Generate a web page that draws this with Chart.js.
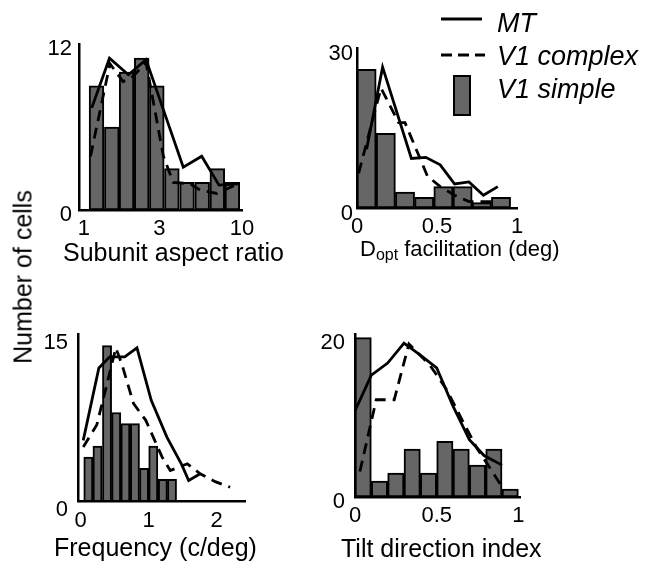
<!DOCTYPE html>
<html>
<head>
<meta charset="utf-8">
<script src="https://cdn.jsdelivr.net/npm/chart.js@4.4.1/dist/chart.umd.min.js"></script>
<style>
  body { margin: 0; background: #fff; }
  #fig { position: relative; width: 649px; height: 565px; overflow: hidden; font-family: "Liberation Sans", Arial, sans-serif; color: #000; }
  #fig canvas { position: absolute; }
  .lbl { position: absolute; white-space: nowrap; line-height: 1; }
  .leg { font-style: italic; font-size: 27px; left: 497px; }
</style>
</head>
<body>
<div id="fig">
  <canvas id="c1" width="265" height="275" style="left:0;top:0"></canvas>
  <canvas id="c2" width="250" height="275" style="left:290px;top:0"></canvas>
  <canvas id="c3" width="270" height="275" style="left:0;top:290px"></canvas>
  <canvas id="c4" width="255" height="275" style="left:290px;top:290px"></canvas>

  <div class="lbl" style="font-size:25px;left:23px;top:277px;transform:translate(-50%,-50%) rotate(-90deg)">Number of cells</div>
  <div class="lbl" style="font-size:25px;left:63px;top:240px">Subunit aspect ratio</div>
  <div class="lbl" style="font-size:22px;left:360px;top:238px">D<span style="font-size:16px;position:relative;top:4px">opt</span> facilitation (deg)</div>
  <div class="lbl" style="font-size:25px;left:54px;top:535px">Frequency (c/deg)</div>
  <div class="lbl" style="font-size:25px;left:341px;top:536px">Tilt direction index</div>

  <svg style="position:absolute;left:440px;top:0" width="50" height="120">
    <line x1="1" y1="19" x2="42" y2="19" stroke="#000" stroke-width="2.8"/>
    <line x1="1" y1="55" x2="45" y2="55" stroke="#000" stroke-width="2.8" stroke-dasharray="11 6"/>
    <rect x="14" y="76" width="16" height="39" fill="#666" stroke="#000" stroke-width="2"/>
  </svg>
  <div class="lbl leg" style="top:10px">MT</div>
  <div class="lbl leg" style="top:43px">V1 complex</div>
  <div class="lbl leg" style="top:76px">V1 simple</div>
</div>

<script>
// subunit aspect ratio (log axis)
const aspectBins = [1.2, 1.5, 1.86, 2.32, 2.89, 3.6, 4.49, 5.6, 6.98, 8.69];
const aspectSimple = [9, 6, 10, 11, 9, 3, 2, 2, 3, 2];
const aspectMTx = [1.12, 1.45, 1.91, 2.47, 4.25, 5.56, 7.15, 9.48];
const aspectMT = [7.4, 11, 9.8, 10.9, 3.1, 3.9, 1.8, 1.9];
const aspectCxX = [1.10, 1.46, 1.77, 2.05, 2.47, 3.18, 3.67, 4.69, 5.42, 6.92, 9.48];
const aspectCx = [3.9, 10.6, 9.3, 9.7, 10.7, 3.9, 2.0, 1.9, 1.45, 1.2, 1.9];
const aspectTicks = [1, 3, 10];

// Dopt facilitation
const doptBins = [0.06, 0.18, 0.30, 0.42, 0.54, 0.66, 0.78, 0.90];
const doptSimple = [26, 14, 3, 2, 4, 4, 1, 2];
const doptMTx = [0.06, 0.16, 0.34, 0.43, 0.52, 0.61, 0.70, 0.79, 0.88];
const doptMT = [11, 26.4, 9.3, 9.5, 8.1, 4.5, 4.9, 2.4, 4.0];
const doptCxX = [0.01, 0.15, 0.26, 0.30, 0.44, 0.52, 0.61, 0.70, 0.85];
const doptCx = [6.5, 22.5, 16, 16, 6, 4, 2.4, 1.2, 1.2];
const doptTicks = [0, 0.5, 1];

// spatial frequency
const freqBins = [0.115, 0.25, 0.39, 0.525, 0.66, 0.80, 0.935, 1.07, 1.21, 1.345];
const freqSimple = [4, 5, 14, 8, 7, 7, 3, 5, 2, 2];
const freqMTx = [0.04, 0.27, 0.43, 0.65, 0.83, 1.04, 1.27, 1.49, 1.59, 1.76];
const freqMT = [5.5, 12, 13, 13, 13.8, 9.1, 5.8, 3.3, 1.9, 2.5];
const freqCxX = [0.04, 0.24, 0.52, 0.61, 0.78, 0.96, 1.2, 1.32, 1.57, 1.76, 1.98, 2.2];
const freqCx = [4.9, 6.9, 13.8, 12.3, 8.8, 7.3, 4.0, 2.8, 3.4, 2.5, 1.8, 1.3];
const freqTicks = [0, 1, 2];

// tilt direction index
const tiltBins = [0.05, 0.15, 0.25, 0.35, 0.45, 0.55, 0.65, 0.75, 0.85, 0.95];
const tiltSimple = [20, 2, 3, 6, 3, 7, 6, 4, 6, 1];
const tiltMTx = [0, 0.1, 0.2, 0.3, 0.4, 0.5, 0.6, 0.7, 0.79, 0.9];
const tiltMT = [10.8, 15.3, 16.8, 19.3, 17.8, 16.2, 11.4, 7.2, 5.2, 4.0];
const tiltCxX = [0.03, 0.13, 0.24, 0.33, 0.46, 0.56, 0.66, 0.75, 0.84, 0.89];
const tiltCx = [3.2, 12.2, 12.2, 19.2, 16.5, 13.5, 9.5, 6.0, 3.2, 1.6];
const tiltTicks = [0, 0.5, 1];

const FONT = '"Liberation Sans", Arial, sans-serif';
const pts = (xs, ys) => xs.map((x, i) => ({ x: x, y: ys[i] }));

function histPanel(id, o) {
  return new Chart(document.getElementById(id), {
    type: 'bar',
    data: {
      datasets: [
        { type: 'line', data: pts(o.mtX, o.mt), borderColor: '#000', borderWidth: 2.8, pointRadius: 0, tension: 0, order: 0 },
        { type: 'line', data: pts(o.cxX, o.cx), borderColor: '#000', borderWidth: 2.8, borderDash: [11, 7], pointRadius: 0, tension: 0, order: 1 },
        { type: 'bar', data: pts(o.bins, o.simple), backgroundColor: '#666', borderColor: '#000', borderWidth: 2,
          borderSkipped: false, barPercentage: 1, categoryPercentage: 1, order: 2 }
      ]
    },
    options: {
      responsive: false,
      animation: false,
      layout: { padding: { top: o.padTop, right: o.padRight, left: 0, bottom: 0 } },
      plugins: { legend: { display: false }, tooltip: { enabled: false } },
      scales: {
        x: {
          type: o.xType, min: o.xMin, max: o.xMax, offset: false,
          grid: { display: false, drawTicks: false },
          border: { display: true, color: '#000', width: 2.5 },
          ticks: { color: '#000', font: { family: FONT, size: 22 }, padding: 6, autoSkip: false, maxRotation: 0,
                   callback: v => String(v) },
          afterBuildTicks: a => { a.ticks = o.xTicks.map(v => ({ value: v })); },
          afterFit: a => { a.height = o.xH; }
        },
        y: {
          type: 'linear', min: 0, max: o.yMax,
          grid: { display: false, drawTicks: false },
          border: { display: true, color: '#000', width: 2.5 },
          ticks: { color: '#000', font: { family: FONT, size: 22 }, padding: o.yPad, labelOffset: o.yOff,
                   callback: v => String(v) },
          afterBuildTicks: a => { a.ticks = [{ value: 0 }, { value: o.yTick }]; },
          afterFit: a => { a.width = o.yW; }
        }
      }
    }
  });
}

histPanel('c1', { bins: aspectBins, simple: aspectSimple, mtX: aspectMTx, mt: aspectMT, cxX: aspectCxX, cx: aspectCx,
  xType: 'logarithmic', xMin: 0.93, xMax: 10, xTicks: aspectTicks,
  yMax: 12, yTick: 12, padTop: 44.4, padRight: 23, yW: 79, xH: 65, yPad: 7, yOff: 5 });

histPanel('c2', { bins: doptBins, simple: doptSimple, mtX: doptMTx, mt: doptMT, cxX: doptCxX, cx: doptCx,
  xType: 'linear', xMin: 0, xMax: 1, xTicks: doptTicks,
  yMax: 30, yTick: 30, padTop: 48, padRight: 23, yW: 67, xH: 67, yPad: 4, yOff: 6 });

histPanel('c3', { bins: freqBins, simple: freqSimple, mtX: freqMTx, mt: freqMT, cxX: freqCxX, cx: freqCx,
  xType: 'linear', xMin: -0.037, xMax: 2.426, xTicks: freqTicks,
  yMax: 15, yTick: 15, padTop: 44.5, padRight: 24.5, yW: 78, xH: 63.3, yPad: 10, yOff: 8 });

histPanel('c4', { bins: tiltBins, simple: tiltSimple, mtX: tiltMTx, mt: tiltMT, cxX: tiltCxX, cx: tiltCx,
  xType: 'linear', xMin: 0, xMax: 1.01, xTicks: tiltTicks,
  yMax: 20.4, yTick: 20, padTop: 44.4, padRight: 25, yW: 65, xH: 68, yPad: 10, yOff: 5 });
</script>
</body>
</html>
